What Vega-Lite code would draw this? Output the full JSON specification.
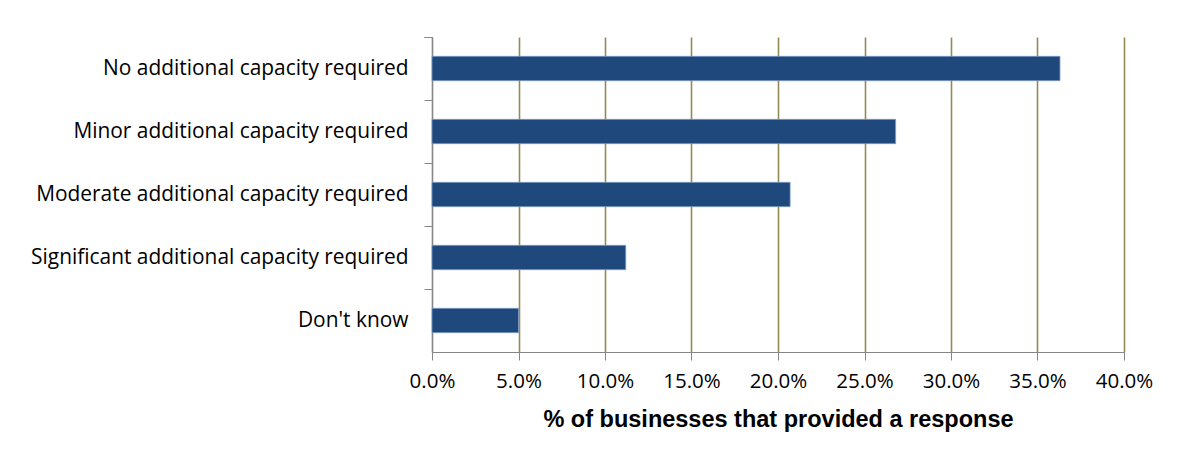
{
  "$schema": "https://vega.github.io/schema/vega-lite/v6.json",
  "autosize": "none",
  "padding": {"left": 432, "top": 37, "right": 58, "bottom": 111},
  "width": 692,
  "height": 315,
  "background": "white",
  "data": {
    "values": [
      {"category": "No additional capacity required", "share": 0.363},
      {"category": "Minor additional capacity required", "share": 0.268},
      {"category": "Moderate additional capacity required", "share": 0.207},
      {"category": "Significant additional capacity required\u00a0", "share": 0.112},
      {"category": "Don't know", "share": 0.050}
    ]
  },
  "mark": {
    "type": "bar",
    "height": {"band": 0.386},
    "color": "#1F497D",
    "stroke": "#7F9CC4",
    "strokeWidth": 0.8
  },
  "encoding": {
    "y": {
      "field": "category",
      "type": "nominal",
      "sort": null,
      "scale": {"paddingInner": 0, "paddingOuter": 0},
      "axis": {
        "title": null,
        "bandPosition": 0,
        "tickExtra": true,
        "tickSize": 8,
        "tickColor": "#868686",
        "domainColor": "#868686",
        "labelFont": "Open Sans",
        "labelFontSize": 20.9,
        "labelColor": "#000000",
        "labelPadding": 16,
        "labelLimit": 500,
        "grid": false
      }
    },
    "x": {
      "field": "share",
      "type": "quantitative",
      "scale": {"domain": [0, 0.4], "nice": false},
      "axis": {
        "values": [0, 0.05, 0.1, 0.15, 0.2, 0.25, 0.3, 0.35, 0.4],
        "format": ".1%",
        "tickSize": 8,
        "tickColor": "#868686",
        "domainColor": "#868686",
        "grid": true,
        "gridColor": {"condition": {"test": "datum.value === 0", "value": "#868686"}, "value": "#948A54"},
        "gridWidth": 1.6,
        "gridOpacity": 1,
        "labelFont": "Open Sans",
        "labelFontSize": 20.5,
        "labelColor": "#000000",
        "labelPadding": 11,
        "labelFlush": false,
        "title": "% of businesses that provided a response",
        "titleFont": "Liberation Sans",
        "titleFontSize": 23.5,
        "titleFontWeight": "bold",
        "titleColor": "#000000",
        "titlePadding": 16
      }
    }
  },
  "config": {
    "view": {"stroke": null}
  }
}
